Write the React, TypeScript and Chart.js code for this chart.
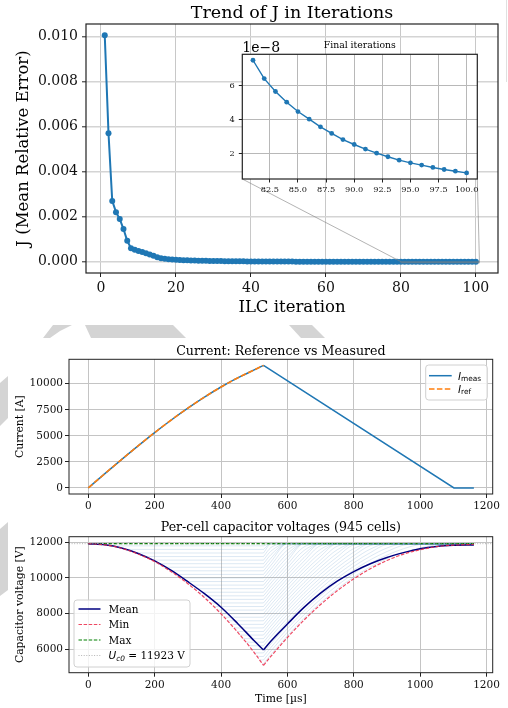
import React, { useEffect, useRef } from "react";
import { Chart, registerables } from "chart.js";
Chart.register(...registerables);

const SERIF = "'DejaVu Serif', 'Liberation Serif', serif";
const SANS = "'DejaVu Sans', 'Liberation Sans', sans-serif";
const BLUE = "#1f77b4";
const ORANGE = "#ff7f0e";

// ---------------- Panel 1 : ILC convergence ----------------
// J value for ILC iterations 1..100
const jValues = [
  0.01005, 0.0057, 0.0027, 0.0022, 0.0019, 0.00145, 0.00093, 0.0006, 0.00053, 0.00048,
  0.00043, 0.00038, 0.00032, 0.00026, 0.0002, 0.00016, 0.00013, 0.00011, 0.000095, 0.000085,
  0.000077, 0.00007, 0.000064, 0.000058, 0.000053, 0.000048, 0.000044, 0.00004, 0.000036, 0.000033,
  0.00003, 0.000027, 0.000025, 0.000023, 0.000021, 0.000019, 0.000017, 0.000016, 0.000014, 0.000013,
  0.000012, 0.000011, 0.00001, 0.0000092, 0.0000084, 0.0000077, 0.000007, 0.0000064, 0.0000058, 0.0000053,
  0.0000048, 0.0000044, 0.000004, 0.0000036, 0.0000033, 0.000003, 0.0000027, 0.0000025, 0.0000023, 0.0000021,
  0.0000019, 0.0000017, 0.0000015, 0.0000013, 0.00000107, 0.0000009, 0.00000075, 0.00000063, 0.00000053, 0.00000045,
  0.00000038, 0.00000032, 0.00000027, 0.00000023, 0.000000195, 0.000000165, 0.00000014, 0.00000012, 0.000000103, 0.000000088,
  7.49e-8, 6.41e-8, 5.65e-8, 5.02e-8, 4.47e-8, 4.02e-8, 3.57e-8, 3.18e-8, 2.82e-8, 2.53e-8,
  2.26e-8, 2.02e-8, 1.81e-8, 1.61e-8, 1.45e-8, 1.32e-8, 1.18e-8, 1.06e-8, 0.96e-8, 0.86e-8,
];
const firstIteration = 1;
const insetFirstIteration = 81;
const jXTicks = [0, 20, 40, 60, 80, 100];
const jYTicks = [0, 0.002, 0.004, 0.006, 0.008, 0.01];
const insetXTicks = [82.5, 85, 87.5, 90, 92.5, 95, 97.5, 100];
const insetYTicks = [2e-8, 4e-8, 6e-8];

// ---------------- Panel 2 : current ----------------
const dischargeTimes = [0, 50, 100, 150, 200, 250, 300, 350, 400, 450, 500, 528];
const currentMeasRise = [0, 1370, 2720, 4040, 5310, 6520, 7660, 8720, 9690, 10560, 11330, 11760];
const currentRefRise = [0, 1370, 2720, 4040, 5310, 6520, 7660, 8720, 9690, 10560, 11330, 11760];
const fallTimes = [528, 1102, 1162];
const currentMeasFall = [11760, 0, 0];
const timeTicks = [0, 200, 400, 600, 800, 1000, 1200];
const currentTicks = [0, 2500, 5000, 7500, 10000];

// ---------------- Panel 3 : capacitor voltages ----------------
const rechargeTimes = [528, 550, 600, 650, 700, 750, 800, 850, 900, 950, 1000, 1050, 1100, 1162];
const meanDischarge = [11923, 11862, 11680, 11375, 10955, 10420, 9790, 9120, 8360, 7450, 6480, 5960];
const meanRecharge = [5960, 6450, 7420, 8350, 9150, 9820, 10360, 10800, 11150, 11420, 11640, 11770, 11830, 11850];
const minDischarge = [11923, 11855, 11665, 11345, 10920, 10350, 9680, 8900, 7990, 6960, 5820, 5100];
const minRecharge = [5100, 5600, 6660, 7640, 8510, 9280, 9950, 10520, 10980, 11340, 11580, 11760, 11840, 11880];
const maxTimes = [0, 1162];
const maxVoltage = [11923, 11923];
const uc0 = 11923;
const cellLevels = [
  11800, 11600, 11400, 11200, 11000, 10800, 10600, 10400, 10200, 10000, 9800, 9600,
  9400, 9200, 9000, 8800, 8600, 8400, 8200, 8000, 7800, 7600, 7400, 7200, 7000,
  6800, 6600, 6400, 6200, 6000, 5800, 5600, 5400, 5200,
];
const cellBypassTimes = [
  64, 110, 141, 167, 191, 210, 228, 246, 261, 276, 291, 305,
  318, 331, 344, 355, 366, 377, 388, 399, 409, 419, 429, 438, 448,
  457, 466, 475, 483, 492, 501, 509, 516, 524,
];
const voltTicks = [6000, 8000, 10000, 12000];

// ---------------- helpers ----------------
const pts = (xs: number[], ys: number[]) => xs.map((x, i) => ({ x, y: ys[i] }));

function scale(o: {
  min: number; max: number; ticks: number[]; fmt: (v: number) => string;
  size: number; fit: number; horizontal: boolean; pad: number;
  gridColor?: string; gridWidth?: number; tickLen?: number;
}) {
  return {
    type: "linear",
    min: o.min,
    max: o.max,
    afterBuildTicks: (s: any) => { s.ticks = o.ticks.map((v) => ({ value: v })); },
    afterFit: (s: any) => { if (o.horizontal) s.height = o.fit; else s.width = o.fit; },
    ticks: {
      autoSkip: false, maxRotation: 0, minRotation: 0, padding: o.pad, color: "#111",
      font: { family: SERIF, size: o.size },
      callback: (v: any) => o.fmt(Number(v)),
    },
    grid: {
      color: o.gridColor ?? "#c4c4c4", lineWidth: o.gridWidth ?? 1, drawTicks: true,
      tickLength: o.tickLen ?? 4, tickColor: "#222", tickWidth: 1,
    },
    border: { display: false },
  };
}

function text(ctx: CanvasRenderingContext2D, s: string, x: number, y: number, size: number,
  o: { align?: CanvasTextAlign; base?: CanvasTextBaseline; rot?: number; family?: string; style?: string; color?: string } = {}) {
  ctx.save();
  ctx.font = `${o.style ?? ""} ${size}px ${o.family ?? SERIF}`;
  ctx.fillStyle = o.color ?? "#000";
  ctx.textAlign = o.align ?? "center";
  ctx.textBaseline = o.base ?? "alphabetic";
  ctx.translate(x, y);
  if (o.rot) ctx.rotate(o.rot);
  ctx.fillText(s, 0, 0);
  ctx.restore();
}

type Run = { s: string; size: number; family?: string; style?: string; dy?: number };
function runs(ctx: CanvasRenderingContext2D, parts: Run[], x: number, y: number) {
  let cx = x;
  ctx.save();
  ctx.fillStyle = "#000";
  ctx.textAlign = "left";
  ctx.textBaseline = "alphabetic";
  for (const p of parts) {
    ctx.font = `${p.style ?? ""} ${p.size}px ${p.family ?? SERIF}`;
    ctx.fillText(p.s, cx, y + (p.dy ?? 0));
    cx += ctx.measureText(p.s).width;
  }
  ctx.restore();
}

function sample(ctx: CanvasRenderingContext2D, x1: number, x2: number, y: number, color: string, lw: number, dash: number[]) {
  ctx.save();
  ctx.strokeStyle = color;
  ctx.lineWidth = lw;
  ctx.setLineDash(dash);
  ctx.beginPath();
  ctx.moveTo(x1, y);
  ctx.lineTo(x2, y);
  ctx.stroke();
  ctx.restore();
}

function legendBox(ctx: CanvasRenderingContext2D, x: number, y: number, w: number, h: number) {
  ctx.save();
  ctx.fillStyle = "rgba(255,255,255,0.8)";
  ctx.strokeStyle = "#d0d0d0";
  ctx.lineWidth = 1;
  ctx.beginPath();
  (ctx as any).roundRect(x, y, w, h, 3);
  ctx.fill();
  ctx.stroke();
  ctx.restore();
}

function frame(ctx: CanvasRenderingContext2D, chart: any, lw = 1) {
  const a = chart.chartArea;
  ctx.save();
  ctx.strokeStyle = "#222";
  ctx.lineWidth = lw;
  ctx.strokeRect(a.left, a.top, a.right - a.left, a.bottom - a.top);
  ctx.restore();
}

function plugin(id: string, after: (ctx: CanvasRenderingContext2D, chart: any) => void,
  before?: (ctx: CanvasRenderingContext2D, chart: any) => void) {
  return {
    id,
    beforeDraw(chart: any) { if (before) { chart.ctx.save(); before(chart.ctx, chart); chart.ctx.restore(); } },
    afterDraw(chart: any) { chart.ctx.save(); after(chart.ctx, chart); chart.ctx.restore(); },
  };
}

const INSET_LEFT = 215;
const INSET_TOP = 34;
const INSET_X = [80.05, 100.95];
const INSET_Y = [0.5e-8, 7.84e-8];

function insetConfig(): any {
  const vals = jValues.slice(insetFirstIteration - firstIteration);
  return {
    type: "line",
    data: {
      datasets: [{
        data: vals.map((v, i) => ({ x: insetFirstIteration + i, y: v })),
        borderColor: BLUE, backgroundColor: BLUE, borderWidth: 1.4,
        pointRadius: 2.4, pointBorderWidth: 0, tension: 0,
      }],
    },
    options: {
      animation: false, responsive: false, devicePixelRatio: 1, events: [],
      layout: { padding: { left: 0, top: 20.3, right: 17.7, bottom: 0 } },
      plugins: { legend: { display: false }, tooltip: { enabled: false } },
      scales: {
        x: scale({ min: INSET_X[0], max: INSET_X[1], ticks: insetXTicks, fmt: (v) => v.toFixed(1), size: 8.2, fit: 20, horizontal: true, pad: 2, tickLen: 3.5, gridColor: "#b8b8b8" }),
        y: scale({ min: INSET_Y[0], max: INSET_Y[1], ticks: insetYTicks, fmt: (v) => (v * 1e8).toFixed(0), size: 8.2, fit: 27.3, horizontal: false, pad: 4, tickLen: 3.5, gridColor: "#b8b8b8" }),
      },
    },
    plugins: [plugin("insetDeco", (ctx, chart) => {
      frame(ctx, chart, 1.2);
      const a = chart.chartArea;
      text(ctx, "Final iterations", (a.left + a.right) / 2, 14, 9.3);
      text(ctx, "1e\u22128", a.left, 17.5, 14, { align: "left" });
    }, (ctx, chart) => {
      const a = chart.chartArea;
      ctx.fillStyle = "#fff";
      ctx.fillRect(a.left, a.top, a.right - a.left, a.bottom - a.top);
    })],
  };
}

function topConfig(inset: any): any {
  return {
    type: "line",
    data: {
      datasets: [{
        data: jValues.map((v, i) => ({ x: firstIteration + i, y: v })),
        borderColor: BLUE, backgroundColor: BLUE, borderWidth: 2,
        pointRadius: 3, pointBorderWidth: 0, tension: 0,
      }],
    },
    options: {
      animation: false, responsive: false, devicePixelRatio: 1, events: [],
      layout: { padding: { left: 0, top: 24, right: 10, bottom: 0 } },
      plugins: { legend: { display: false }, tooltip: { enabled: false } },
      scales: {
        x: scale({ min: -4, max: 105.9, ticks: jXTicks, fmt: (v) => String(v), size: 14, fit: 47, horizontal: true, pad: 3, gridColor: "#c8c8c8" }),
        y: scale({ min: -0.0005, max: 0.01055, ticks: jYTicks, fmt: (v) => v.toFixed(3), size: 14, fit: 86, horizontal: false, pad: 4, gridColor: "#d4d4d4", gridWidth: 1.6 }),
      },
    },
    plugins: [plugin("topDeco", (ctx, chart) => {
      const xs = chart.scales.x, ys = chart.scales.y;
      const rx1 = xs.getPixelForValue(INSET_X[0]), rx2 = xs.getPixelForValue(INSET_X[1]);
      const ry1 = ys.getPixelForValue(INSET_Y[1]), ry2 = ys.getPixelForValue(INSET_Y[0]);
      const ia = inset.chartArea;
      ctx.strokeStyle = "rgba(128,128,128,0.6)";
      ctx.lineWidth = 1;
      ctx.strokeRect(rx1, ry1, rx2 - rx1, Math.max(1, ry2 - ry1));
      ctx.beginPath();
      ctx.moveTo(ia.left + INSET_LEFT, ia.bottom + INSET_TOP);
      ctx.lineTo(rx1, ry2);
      ctx.moveTo(ia.right + INSET_LEFT, ia.bottom + INSET_TOP);
      ctx.lineTo(rx2, ry2);
      ctx.stroke();
      frame(ctx, chart, 1.2);
      const a = chart.chartArea;
      const cx = (a.left + a.right) / 2;
      text(ctx, "Trend of J in Iterations", cx, 18, 17.5);
      text(ctx, "J (Mean Relative Error)", 24, (a.top + a.bottom) / 2, 16.5, { rot: -Math.PI / 2, base: "middle" });
      text(ctx, "ILC iteration", cx, 311.5, 16.5);
    })],
  };
}

function currentConfig(): any {
  return {
    type: "line",
    data: {
      datasets: [
        { data: pts(dischargeTimes, currentRefRise), borderColor: ORANGE, borderWidth: 1.6, borderDash: [5.5, 2.4], pointRadius: 0, cubicInterpolationMode: "monotone" },
        { data: pts(dischargeTimes, currentMeasRise), borderColor: BLUE, borderWidth: 1.5, pointRadius: 0, cubicInterpolationMode: "monotone" },
        { data: pts(fallTimes, currentMeasFall), borderColor: BLUE, borderWidth: 1.5, pointRadius: 0, tension: 0 },
      ],
    },
    options: {
      animation: false, responsive: false, devicePixelRatio: 1, events: [],
      layout: { padding: { left: 0, top: 24.3, right: 15.3, bottom: 0 } },
      plugins: { legend: { display: false }, tooltip: { enabled: false } },
      scales: {
        x: scale({ min: -58.2, max: 1218.7, ticks: timeTicks, fmt: (v) => String(v), size: 10.5, fit: 18, horizontal: true, pad: 2 }),
        y: scale({ min: -588, max: 12348, ticks: currentTicks, fmt: (v) => String(v), size: 10.5, fit: 69, horizontal: false, pad: 2 }),
      },
    },
    plugins: [plugin("curDeco", (ctx, chart) => {
      frame(ctx, chart);
      const a = chart.chartArea;
      text(ctx, "Current: Reference vs Measured", (a.left + a.right) / 2, 20, 12.6);
      text(ctx, "Current [A]", 20.5, (a.top + a.bottom) / 2, 10.8, { rot: -Math.PI / 2, base: "middle" });
      // legend
      const off = 335;
      legendBox(ctx, 425.7, 365 - off, 61.6, 35);
      sample(ctx, 429, 451.7, 375.7 - off, BLUE, 1.5, []);
      sample(ctx, 429, 451.7, 389 - off, ORANGE, 1.5, [5.5, 2.4]);
      runs(ctx, [{ s: "I", size: 10.5, family: SANS, style: "italic" }, { s: "meas", size: 7.4, family: SANS, dy: 1.8 }], 458, 379.5 - off);
      runs(ctx, [{ s: "I", size: 10.5, family: SANS, style: "italic" }, { s: "ref", size: 7.4, family: SANS, dy: 1.8 }], 458, 392.5 - off);
    })],
  };
}

function voltageConfig(): any {
  const bottomOfMin = minDischarge[minDischarge.length - 1];
  const turnTime = dischargeTimes[dischargeTimes.length - 1];
  const cellSets: any[] = [];
  const cellColor = "rgba(100,150,200,0.32)";
  cellLevels.forEach((L, i) => {
    cellSets.push({ data: [{ x: cellBypassTimes[i], y: L }, { x: turnTime, y: L }], borderColor: cellColor, borderWidth: 0.7, pointRadius: 0, tension: 0 });
    cellSets.push({
      data: rechargeTimes.map((t, j) => ({ x: t, y: Math.min(uc0, minRecharge[j] + (L - bottomOfMin)) })),
      borderColor: cellColor, borderWidth: 0.7, pointRadius: 0, cubicInterpolationMode: "monotone",
    });
  });
  const red = "rgba(235,40,70,0.85)";
  return {
    type: "line",
    data: {
      datasets: [
        { data: pts(dischargeTimes, minDischarge), borderColor: red, borderWidth: 1.2, borderDash: [3.5, 1.6], pointRadius: 0, cubicInterpolationMode: "monotone" },
        { data: pts(rechargeTimes, minRecharge), borderColor: red, borderWidth: 1.2, borderDash: [3.5, 1.6], pointRadius: 0, cubicInterpolationMode: "monotone" },
        { data: pts(dischargeTimes, meanDischarge), borderColor: "#000080", borderWidth: 1.5, pointRadius: 0, cubicInterpolationMode: "monotone" },
        { data: pts(rechargeTimes, meanRecharge), borderColor: "#000080", borderWidth: 1.5, pointRadius: 0, cubicInterpolationMode: "monotone" },
        { data: pts(maxTimes, maxVoltage), borderColor: "#008000", borderWidth: 1.1, borderDash: [3.5, 1.6], pointRadius: 0, tension: 0 },
        ...cellSets,
      ],
    },
    options: {
      animation: false, responsive: false, devicePixelRatio: 1, events: [],
      layout: { padding: { left: 0, top: 24.7, right: 15.3, bottom: 0 } },
      plugins: { legend: { display: false }, tooltip: { enabled: false } },
      scales: {
        x: scale({ min: -58.2, max: 1218.7, ticks: timeTicks, fmt: (v) => String(v), size: 10.5, fit: 35.3, horizontal: true, pad: 2 }),
        y: scale({ min: 4690, max: 12314, ticks: voltTicks, fmt: (v) => String(v), size: 10.5, fit: 69, horizontal: false, pad: 2 }),
      },
    },
    plugins: [plugin("voltDeco", (ctx, chart) => {
      const a = chart.chartArea;
      const yU = chart.scales.y.getPixelForValue(uc0);
      ctx.save();
      ctx.strokeStyle = "rgba(150,150,150,0.7)";
      ctx.lineWidth = 1;
      ctx.setLineDash([1, 1.6]);
      ctx.beginPath();
      ctx.moveTo(a.left, yU);
      ctx.lineTo(a.right, yU);
      ctx.stroke();
      ctx.restore();
      frame(ctx, chart);
      const cx = (a.left + a.right) / 2;
      text(ctx, "Per-cell capacitor voltages (945 cells)", cx, 19.2, 12.6);
      text(ctx, "Capacitor voltage [V]", 20.5, (a.top + a.bottom) / 2, 10.8, { rot: -Math.PI / 2, base: "middle" });
      text(ctx, "Time [\u00b5s]", cx, 189.5, 10.8);
      const off = 512;
      legendBox(ctx, 74, 600 - off, 116, 67);
      sample(ctx, 78.5, 100.5, 609 - off, "#000080", 1.5, []);
      sample(ctx, 78.5, 100.5, 624.5 - off, red, 1.2, [3.5, 1.6]);
      sample(ctx, 78.5, 100.5, 640 - off, "#008000", 1.1, [3.5, 1.6]);
      sample(ctx, 78.5, 100.5, 655.5 - off, "rgba(150,150,150,0.7)", 1, [1, 1.6]);
      text(ctx, "Mean", 108.5, 612.8 - off, 10.5, { align: "left" });
      text(ctx, "Min", 108.5, 628.3 - off, 10.5, { align: "left" });
      text(ctx, "Max", 108.5, 643.8 - off, 10.5, { align: "left" });
      runs(ctx, [
        { s: "U", size: 10.5, family: SANS, style: "italic" },
        { s: "c0", size: 7.4, family: SANS, style: "italic", dy: 1.8 },
        { s: " = 11923 V", size: 10.5 },
      ], 108.5, 659.3 - off);
    })],
  };
}

const WATERMARK = [
  "53px 325px, 72px 325px, 60px 331px, 50px 338px, 43px 338px",
  "85px 325px, 173px 325px, 186px 338px, 91px 338px",
  "289px 325px, 312px 325px, 325px 338px, 301px 338px",
  "0px 383px, 8px 376px, 8px 418px, 0px 426px",
  "0px 529px, 8px 522px, 8px 590px, 0px 596px",
];

export default function App() {
  const c1 = useRef<HTMLCanvasElement>(null);
  const c1i = useRef<HTMLCanvasElement>(null);
  const c2 = useRef<HTMLCanvasElement>(null);
  const c3 = useRef<HTMLCanvasElement>(null);
  useEffect(() => {
    const charts: Chart[] = [];
    const inset = new Chart(c1i.current!, insetConfig());
    charts.push(inset);
    charts.push(new Chart(c1.current!, topConfig(inset)));
    charts.push(new Chart(c2.current!, currentConfig()));
    charts.push(new Chart(c3.current!, voltageConfig()));
    return () => charts.forEach((c) => c.destroy());
  }, []);
  return (
    <div style={{ position: "fixed", left: 0, top: 0, width: 508, height: 708, background: "#fff", overflow: "hidden" }}>
      <canvas ref={c1} width={508} height={320} style={{ position: "absolute", left: 0, top: 0 }} />
      <canvas ref={c1i} width={280} height={165} style={{ position: "absolute", left: INSET_LEFT, top: INSET_TOP }} />
      <canvas ref={c2} width={508} height={177} style={{ position: "absolute", left: 0, top: 335 }} />
      <canvas ref={c3} width={508} height={196} style={{ position: "absolute", left: 0, top: 512 }} />
      {WATERMARK.map((p, i) => (
        <div key={i} style={{ position: "absolute", left: 0, top: 0, width: 508, height: 708, background: "#d4d4d4", clipPath: `polygon(${p})` }} />
      ))}
      <div style={{ position: "absolute", left: 506, top: 0, width: 1, height: 82, background: "#e0e0e0" }} />
    </div>
  );
}
